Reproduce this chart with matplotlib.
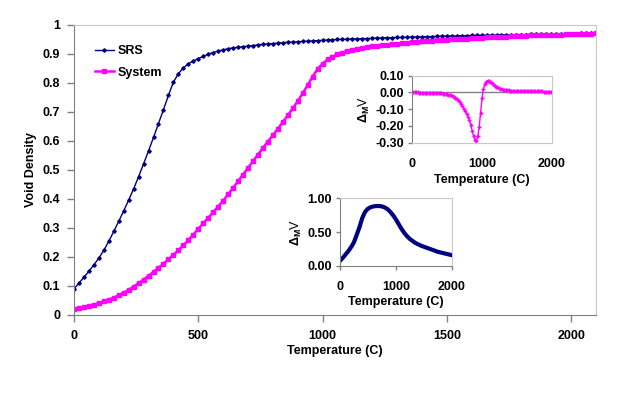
import numpy as np
import matplotlib
matplotlib.use('Agg')
import matplotlib.pyplot as plt
from matplotlib.ticker import FormatStrFormatter

plt.rcParams['font.family'] = ['Liberation Sans', 'DejaVu Sans']
plt.rcParams['font.weight'] = 'bold'
plt.rcParams['mathtext.fontset'] = 'custom'
plt.rcParams['mathtext.rm'] = 'Liberation Sans:bold'
plt.rcParams['mathtext.it'] = 'Liberation Sans:bold'
plt.rcParams['mathtext.bf'] = 'Liberation Sans:bold'

# main chart: void density vs temperature, sampled every 20 C
temp_main = np.arange(0, 2101, 20)
srs = [
    0.090, 0.110, 0.130, 0.151, 0.173, 0.196, 0.223, 0.254, 0.288, 0.323,
    0.359, 0.396, 0.435, 0.477, 0.521, 0.566, 0.612, 0.660, 0.708, 0.757,
    0.803, 0.832, 0.852, 0.866, 0.876, 0.884, 0.892, 0.899, 0.905, 0.910,
    0.914, 0.918, 0.921, 0.923, 0.925, 0.927, 0.929, 0.931, 0.933, 0.934,
    0.936, 0.937, 0.939, 0.940, 0.941, 0.942, 0.943, 0.944, 0.945, 0.946,
    0.947, 0.948, 0.949, 0.950, 0.950, 0.951, 0.952, 0.952, 0.953, 0.953,
    0.954, 0.955, 0.955, 0.956, 0.956, 0.957, 0.957, 0.958, 0.958, 0.959,
    0.959, 0.960, 0.960, 0.961, 0.961, 0.962, 0.962, 0.962, 0.963, 0.963,
    0.964, 0.964, 0.964, 0.965, 0.965, 0.965, 0.966, 0.966, 0.966, 0.967,
    0.967, 0.967, 0.968, 0.968, 0.968, 0.969, 0.969, 0.969, 0.969, 0.970,
    0.970, 0.970, 0.971, 0.971, 0.971, 0.972,
]
system = [
    0.020, 0.023, 0.027, 0.031, 0.036, 0.041, 0.047, 0.053, 0.060, 0.068,
    0.077, 0.087, 0.098, 0.110, 0.122, 0.135, 0.149, 0.163, 0.177, 0.192,
    0.207, 0.223, 0.240, 0.258, 0.277, 0.297, 0.316, 0.335, 0.354, 0.374,
    0.394, 0.416, 0.438, 0.461, 0.484, 0.507, 0.530, 0.553, 0.576, 0.598,
    0.620, 0.642, 0.665, 0.688, 0.712, 0.737, 0.764, 0.792, 0.822, 0.848,
    0.867, 0.881, 0.891, 0.899, 0.905, 0.910, 0.914, 0.918, 0.921, 0.924,
    0.926, 0.928, 0.930, 0.932, 0.934, 0.936, 0.937, 0.939, 0.940, 0.942,
    0.943, 0.944, 0.946, 0.947, 0.948, 0.949, 0.950, 0.951, 0.952, 0.953,
    0.954, 0.955, 0.956, 0.957, 0.958, 0.959, 0.960, 0.960, 0.961, 0.962,
    0.963, 0.963, 0.964, 0.965, 0.965, 0.966, 0.966, 0.967, 0.967, 0.968,
    0.968, 0.969, 0.969, 0.970, 0.970, 0.971,
]

# upper inset: difference curve (pink), every 20 C
temp_diff = np.arange(0, 2001, 20)
diff_mv = [
    0.000, 0.000, 0.000, 0.000, 0.000, -0.001, -0.001, -0.001, -0.001, -0.001,
    -0.002, -0.002, -0.002, -0.002, -0.003, -0.003, -0.003, -0.004, -0.004, -0.005,
    -0.005, -0.006, -0.007, -0.008, -0.010, -0.011, -0.013, -0.015, -0.018, -0.022,
    -0.026, -0.032, -0.039, -0.048, -0.058, -0.070, -0.083, -0.097, -0.112, -0.128,
    -0.146, -0.165, -0.195, -0.230, -0.262, -0.284, -0.288, -0.262, -0.205, -0.120,
    -0.035, 0.020, 0.050, 0.065, 0.071, 0.070, 0.064, 0.057, 0.049, 0.041,
    0.035, 0.030, 0.026, 0.022, 0.019, 0.017, 0.015, 0.014, 0.013, 0.012,
    0.011, 0.011, 0.010, 0.010, 0.010, 0.009, 0.009, 0.009, 0.008, 0.008,
    0.008, 0.008, 0.007, 0.007, 0.007, 0.007, 0.007, 0.006, 0.006, 0.006,
    0.006, 0.006, 0.006, 0.006, 0.005, 0.005, 0.005, 0.005, 0.005, 0.005,
    0.005,
]

# lower inset: navy curve, every 50 C
temp_peak = np.arange(0, 2001, 50)
peak_mv = [
    0.075, 0.120, 0.170, 0.220, 0.280, 0.350, 0.460, 0.575, 0.710, 0.800,
    0.845, 0.868, 0.880, 0.885, 0.886, 0.880, 0.865, 0.840, 0.800, 0.750,
    0.690, 0.620, 0.550, 0.490, 0.440, 0.400, 0.370, 0.340, 0.320, 0.300,
    0.285, 0.270, 0.255, 0.240, 0.225, 0.210, 0.200, 0.190, 0.180, 0.170,
    0.160,
]

NAVY = '#000080'
PINK = '#ff00ff'
DARK = '#808080'
LIGHT = '#c8c8c8'
FS = 9


def style_frame(ax):
    ax.spines['left'].set_color(DARK)
    ax.spines['bottom'].set_color(DARK)
    ax.spines['top'].set_color(LIGHT)
    ax.spines['right'].set_color(LIGHT)
    ax.tick_params(colors=DARK, labelcolor='black', labelsize=FS, width=1)


fig = plt.figure(figsize=(6.35, 3.93), dpi=100, facecolor='white')

# main axes
ax = fig.add_axes([0.1165, 0.1985, 0.822, 0.738])
ax.plot(temp_main, srs, color=NAVY, marker='D', markersize=1.8, linewidth=1, label='SRS')
ax.plot(temp_main, system, color=PINK, marker='s', markersize=2.2, linewidth=1.8, label='System')
ax.set_xlim(0, 2100)
ax.set_ylim(0, 1)
ax.set_xticks([0, 500, 1000, 1500, 2000])
ax.set_yticks(np.arange(0, 1.01, 0.1))
ax.yaxis.set_major_formatter(FormatStrFormatter('%g'))
style_frame(ax)
ax.tick_params(axis='x', length=5, pad=6)
ax.tick_params(axis='y', length=5, pad=5)
ax.set_xlabel('Temperature (C)', fontsize=FS, fontweight='bold', labelpad=2)
ax.set_ylabel('Void Density', fontsize=FS, fontweight='bold', labelpad=4)
ax.legend(loc='upper left', bbox_to_anchor=(0.04, 0.93), frameon=False,
          fontsize=FS, handlelength=1.5, handletextpad=0.35, labelspacing=0.75,
          borderpad=0, borderaxespad=0)

# upper inset
ax1 = fig.add_axes([0.6488, 0.6369, 0.2205, 0.1705])
ax1.plot(temp_diff, diff_mv, color=PINK, marker='+', markersize=3, markeredgewidth=1, linewidth=1)
ax1.axhline(0, color=DARK, linewidth=1, zorder=0)
ax1.set_xlim(0, 2000)
ax1.set_ylim(-0.3, 0.1)
ax1.set_xticks([0, 1000, 2000])
ax1.set_yticks([0.1, 0.0, -0.1, -0.2, -0.3])
ax1.yaxis.set_major_formatter(FormatStrFormatter('%.2f'))
style_frame(ax1)
ax1.spines['bottom'].set_color(LIGHT)
ax1.tick_params(axis='x', length=0, pad=11)
ax1.tick_params(axis='y', length=3, pad=3)
ax1.set_xlabel('Temperature (C)', fontsize=FS, fontweight='bold', labelpad=3)
ax1.set_ylabel(r'$\Delta_{M}$V', fontsize=FS, labelpad=2)

# lower inset
ax2 = fig.add_axes([0.5354, 0.3232, 0.1759, 0.1723])
ax2.plot(temp_peak, peak_mv, color=NAVY, linewidth=3, solid_capstyle='round')
ax2.set_xlim(0, 2000)
ax2.set_ylim(0, 1)
ax2.set_xticks([0, 1000, 2000])
ax2.set_yticks([0, 0.5, 1.0])
ax2.yaxis.set_major_formatter(FormatStrFormatter('%.2f'))
style_frame(ax2)
ax2.tick_params(axis='x', length=3, pad=8)
ax2.tick_params(axis='y', length=3, pad=3)
ax2.set_xlabel('Temperature (C)', fontsize=FS, fontweight='bold', labelpad=2)
ax2.set_ylabel(r'$\Delta_{M}$V', fontsize=FS, labelpad=2)

fig.savefig('out.png', dpi=100, facecolor='white')
